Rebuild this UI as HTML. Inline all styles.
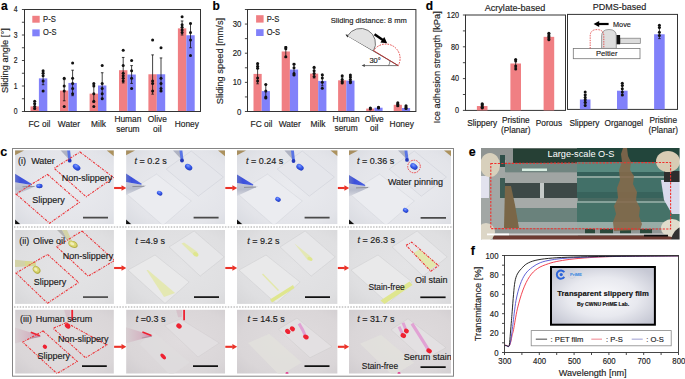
<!DOCTYPE html>
<html><head><meta charset="utf-8"><style>
html,body{margin:0;padding:0;background:#fff;}
svg{display:block;font-family:"Liberation Sans", sans-serif;}
text{stroke:currentColor;stroke-width:0.15px;}
</style></head><body>
<svg width="685" height="379" viewBox="0 0 685 379">
<rect width="685" height="379" fill="#fff"/>
<rect x="30.50" y="106.40" width="8.40" height="5.10" fill="#F07F83" />
<line x1="34.70" y1="108.95" x2="34.70" y2="103.34" stroke="#111" stroke-width="0.8" />
<line x1="33.40" y1="108.95" x2="36.00" y2="108.95" stroke="#111" stroke-width="0.8" />
<line x1="33.40" y1="103.34" x2="36.00" y2="103.34" stroke="#111" stroke-width="0.8" />
<circle cx="34.70" cy="101.30" r="1.5" fill="#111"/>
<circle cx="34.70" cy="103.85" r="1.5" fill="#111"/>
<circle cx="34.70" cy="106.40" r="1.5" fill="#111"/>
<circle cx="34.70" cy="108.44" r="1.5" fill="#111"/>
<rect x="38.90" y="78.35" width="8.40" height="33.15" fill="#8181FA" />
<line x1="43.10" y1="84.72" x2="43.10" y2="71.97" stroke="#111" stroke-width="0.8" />
<line x1="41.80" y1="84.72" x2="44.40" y2="84.72" stroke="#111" stroke-width="0.8" />
<line x1="41.80" y1="71.97" x2="44.40" y2="71.97" stroke="#111" stroke-width="0.8" />
<circle cx="43.10" cy="70.70" r="1.5" fill="#111"/>
<circle cx="43.10" cy="73.25" r="1.5" fill="#111"/>
<circle cx="43.10" cy="75.80" r="1.5" fill="#111"/>
<circle cx="43.10" cy="80.90" r="1.5" fill="#111"/>
<circle cx="43.10" cy="91.10" r="1.5" fill="#111"/>
<rect x="60.00" y="90.59" width="8.40" height="20.91" fill="#F07F83" />
<line x1="64.20" y1="100.79" x2="64.20" y2="79.62" stroke="#111" stroke-width="0.8" />
<line x1="62.90" y1="100.79" x2="65.50" y2="100.79" stroke="#111" stroke-width="0.8" />
<line x1="62.90" y1="79.62" x2="65.50" y2="79.62" stroke="#111" stroke-width="0.8" />
<circle cx="64.20" cy="78.35" r="1.5" fill="#111"/>
<circle cx="64.20" cy="86.00" r="1.5" fill="#111"/>
<circle cx="64.20" cy="91.10" r="1.5" fill="#111"/>
<circle cx="64.20" cy="106.40" r="1.5" fill="#111"/>
<rect x="68.40" y="82.94" width="8.40" height="28.56" fill="#8181FA" />
<line x1="72.60" y1="95.69" x2="72.60" y2="70.19" stroke="#111" stroke-width="0.8" />
<line x1="71.30" y1="95.69" x2="73.90" y2="95.69" stroke="#111" stroke-width="0.8" />
<line x1="71.30" y1="70.19" x2="73.90" y2="70.19" stroke="#111" stroke-width="0.8" />
<circle cx="72.60" cy="63.05" r="1.5" fill="#111"/>
<circle cx="72.60" cy="78.35" r="1.5" fill="#111"/>
<circle cx="72.60" cy="83.45" r="1.5" fill="#111"/>
<circle cx="72.60" cy="88.55" r="1.5" fill="#111"/>
<circle cx="72.60" cy="93.65" r="1.5" fill="#111"/>
<rect x="89.60" y="93.65" width="8.40" height="17.85" fill="#F07F83" />
<line x1="93.80" y1="102.58" x2="93.80" y2="84.72" stroke="#111" stroke-width="0.8" />
<line x1="92.50" y1="102.58" x2="95.10" y2="102.58" stroke="#111" stroke-width="0.8" />
<line x1="92.50" y1="84.72" x2="95.10" y2="84.72" stroke="#111" stroke-width="0.8" />
<circle cx="93.80" cy="83.45" r="1.5" fill="#111"/>
<circle cx="93.80" cy="86.00" r="1.5" fill="#111"/>
<circle cx="93.80" cy="93.65" r="1.5" fill="#111"/>
<circle cx="93.80" cy="101.30" r="1.5" fill="#111"/>
<circle cx="93.80" cy="106.40" r="1.5" fill="#111"/>
<rect x="98.00" y="85.49" width="8.40" height="26.01" fill="#8181FA" />
<line x1="102.20" y1="98.24" x2="102.20" y2="72.74" stroke="#111" stroke-width="0.8" />
<line x1="100.90" y1="98.24" x2="103.50" y2="98.24" stroke="#111" stroke-width="0.8" />
<line x1="100.90" y1="72.74" x2="103.50" y2="72.74" stroke="#111" stroke-width="0.8" />
<circle cx="102.20" cy="65.60" r="1.5" fill="#111"/>
<circle cx="102.20" cy="83.45" r="1.5" fill="#111"/>
<circle cx="102.20" cy="88.55" r="1.5" fill="#111"/>
<circle cx="102.20" cy="93.65" r="1.5" fill="#111"/>
<circle cx="102.20" cy="98.75" r="1.5" fill="#111"/>
<rect x="119.00" y="70.19" width="8.40" height="41.31" fill="#F07F83" />
<line x1="123.20" y1="82.94" x2="123.20" y2="57.44" stroke="#111" stroke-width="0.8" />
<line x1="121.90" y1="82.94" x2="124.50" y2="82.94" stroke="#111" stroke-width="0.8" />
<line x1="121.90" y1="57.44" x2="124.50" y2="57.44" stroke="#111" stroke-width="0.8" />
<circle cx="123.20" cy="50.30" r="1.5" fill="#111"/>
<circle cx="123.20" cy="65.60" r="1.5" fill="#111"/>
<circle cx="123.20" cy="73.25" r="1.5" fill="#111"/>
<circle cx="123.20" cy="75.80" r="1.5" fill="#111"/>
<circle cx="123.20" cy="78.35" r="1.5" fill="#111"/>
<circle cx="123.20" cy="80.90" r="1.5" fill="#111"/>
<rect x="127.40" y="74.53" width="8.40" height="36.97" fill="#8181FA" />
<line x1="131.60" y1="83.45" x2="131.60" y2="65.60" stroke="#111" stroke-width="0.8" />
<line x1="130.30" y1="83.45" x2="132.90" y2="83.45" stroke="#111" stroke-width="0.8" />
<line x1="130.30" y1="65.60" x2="132.90" y2="65.60" stroke="#111" stroke-width="0.8" />
<circle cx="131.60" cy="60.50" r="1.5" fill="#111"/>
<circle cx="131.60" cy="70.70" r="1.5" fill="#111"/>
<circle cx="131.60" cy="78.35" r="1.5" fill="#111"/>
<circle cx="131.60" cy="88.55" r="1.5" fill="#111"/>
<rect x="148.40" y="74.27" width="8.40" height="37.23" fill="#F07F83" />
<line x1="152.60" y1="94.16" x2="152.60" y2="54.89" stroke="#111" stroke-width="0.8" />
<line x1="151.30" y1="94.16" x2="153.90" y2="94.16" stroke="#111" stroke-width="0.8" />
<line x1="151.30" y1="54.89" x2="153.90" y2="54.89" stroke="#111" stroke-width="0.8" />
<circle cx="152.60" cy="40.10" r="1.5" fill="#111"/>
<circle cx="152.60" cy="80.90" r="1.5" fill="#111"/>
<circle cx="152.60" cy="83.45" r="1.5" fill="#111"/>
<circle cx="152.60" cy="91.10" r="1.5" fill="#111"/>
<rect x="156.80" y="74.27" width="8.40" height="37.23" fill="#8181FA" />
<line x1="161.00" y1="91.10" x2="161.00" y2="57.95" stroke="#111" stroke-width="0.8" />
<line x1="159.70" y1="91.10" x2="162.30" y2="91.10" stroke="#111" stroke-width="0.8" />
<line x1="159.70" y1="57.95" x2="162.30" y2="57.95" stroke="#111" stroke-width="0.8" />
<circle cx="161.00" cy="47.75" r="1.5" fill="#111"/>
<circle cx="161.00" cy="78.35" r="1.5" fill="#111"/>
<circle cx="161.00" cy="83.45" r="1.5" fill="#111"/>
<circle cx="161.00" cy="88.55" r="1.5" fill="#111"/>
<circle cx="161.00" cy="91.10" r="1.5" fill="#111"/>
<rect x="177.90" y="28.37" width="8.40" height="83.13" fill="#F07F83" />
<line x1="182.10" y1="35.00" x2="182.10" y2="20.98" stroke="#111" stroke-width="0.8" />
<line x1="180.80" y1="35.00" x2="183.40" y2="35.00" stroke="#111" stroke-width="0.8" />
<line x1="180.80" y1="20.98" x2="183.40" y2="20.98" stroke="#111" stroke-width="0.8" />
<circle cx="182.10" cy="16.64" r="1.5" fill="#111"/>
<circle cx="182.10" cy="24.80" r="1.5" fill="#111"/>
<circle cx="182.10" cy="27.35" r="1.5" fill="#111"/>
<circle cx="182.10" cy="29.90" r="1.5" fill="#111"/>
<circle cx="182.10" cy="32.45" r="1.5" fill="#111"/>
<rect x="186.30" y="35.25" width="8.40" height="76.25" fill="#8181FA" />
<line x1="190.50" y1="47.75" x2="190.50" y2="23.27" stroke="#111" stroke-width="0.8" />
<line x1="189.20" y1="47.75" x2="191.80" y2="47.75" stroke="#111" stroke-width="0.8" />
<line x1="189.20" y1="23.27" x2="191.80" y2="23.27" stroke="#111" stroke-width="0.8" />
<circle cx="190.50" cy="23.52" r="1.5" fill="#111"/>
<circle cx="190.50" cy="32.45" r="1.5" fill="#111"/>
<circle cx="190.50" cy="40.10" r="1.5" fill="#111"/>
<circle cx="190.50" cy="55.40" r="1.5" fill="#111"/>
<rect x="24.5" y="9.5" width="176.0" height="102.0" fill="none" stroke="#333" stroke-width="1"/>
<line x1="21.90" y1="111.50" x2="24.50" y2="111.50" stroke="#333" stroke-width="0.9" />
<line x1="21.90" y1="98.75" x2="24.50" y2="98.75" stroke="#333" stroke-width="0.9" />
<line x1="21.90" y1="86.00" x2="24.50" y2="86.00" stroke="#333" stroke-width="0.9" />
<line x1="21.90" y1="73.25" x2="24.50" y2="73.25" stroke="#333" stroke-width="0.9" />
<line x1="21.90" y1="60.50" x2="24.50" y2="60.50" stroke="#333" stroke-width="0.9" />
<line x1="21.90" y1="47.75" x2="24.50" y2="47.75" stroke="#333" stroke-width="0.9" />
<line x1="21.90" y1="35.00" x2="24.50" y2="35.00" stroke="#333" stroke-width="0.9" />
<line x1="21.90" y1="22.25" x2="24.50" y2="22.25" stroke="#333" stroke-width="0.9" />
<line x1="21.90" y1="9.50" x2="24.50" y2="9.50" stroke="#333" stroke-width="0.9" />
<text transform="translate(17.50,114.40) scale(1,1.2)" font-size="6.8" text-anchor="end" fill="#222" color="#222" >0</text>
<text transform="translate(17.50,88.90) scale(1,1.2)" font-size="6.8" text-anchor="end" fill="#222" color="#222" >1</text>
<text transform="translate(17.50,63.40) scale(1,1.2)" font-size="6.8" text-anchor="end" fill="#222" color="#222" >2</text>
<text transform="translate(17.50,37.90) scale(1,1.2)" font-size="6.8" text-anchor="end" fill="#222" color="#222" >3</text>
<text transform="translate(17.50,12.40) scale(1,1.2)" font-size="6.8" text-anchor="end" fill="#222" color="#222" >4</text>
<rect x="32.30" y="15.80" width="7.40" height="6.90" fill="#F07F83" />
<rect x="32.30" y="29.40" width="7.40" height="6.90" fill="#8181FA" />
<text transform="translate(43.10,22.00) scale(1,1.0)" font-size="8.4" text-anchor="start" fill="#222" color="#222" textLength="12.8" lengthAdjust="spacingAndGlyphs">P-S</text>
<text transform="translate(43.10,35.00) scale(1,1.0)" font-size="8.4" text-anchor="start" fill="#222" color="#222" textLength="13.3" lengthAdjust="spacingAndGlyphs">O-S</text>
<text transform="translate(39.40,126.90) scale(1,1.1)" font-size="8.4" text-anchor="middle" fill="#222" color="#222" >FC oil</text>
<text transform="translate(68.90,126.90) scale(1,1.1)" font-size="8.4" text-anchor="middle" fill="#222" color="#222" >Water</text>
<text transform="translate(98.50,126.90) scale(1,1.1)" font-size="8.4" text-anchor="middle" fill="#222" color="#222" >Milk</text>
<text transform="translate(127.90,121.90) scale(1,1.1)" font-size="8.4" text-anchor="middle" fill="#222" color="#222" >Human</text>
<text transform="translate(127.90,131.80) scale(1,1.1)" font-size="8.4" text-anchor="middle" fill="#222" color="#222" >serum</text>
<text transform="translate(157.30,121.90) scale(1,1.1)" font-size="8.4" text-anchor="middle" fill="#222" color="#222" >Olive</text>
<text transform="translate(157.30,131.80) scale(1,1.1)" font-size="8.4" text-anchor="middle" fill="#222" color="#222" >oil</text>
<text transform="translate(186.80,126.90) scale(1,1.1)" font-size="8.4" text-anchor="middle" fill="#222" color="#222" >Honey</text>
<text transform="translate(8.10,60.60) rotate(-90)" font-size="9.3" text-anchor="middle" fill="#222" color="#222">Sliding angle [°]</text>
<text transform="translate(1.00,9.80) scale(1,1.06)" font-size="12" text-anchor="start" font-weight="bold" fill="#000" color="#000" >a</text>
<rect x="253.50" y="73.91" width="8.20" height="37.59" fill="#F07F83" />
<line x1="257.60" y1="83.81" x2="257.60" y2="64.29" stroke="#111" stroke-width="0.8" />
<line x1="256.30" y1="83.81" x2="258.90" y2="83.81" stroke="#111" stroke-width="0.8" />
<line x1="256.30" y1="64.29" x2="258.90" y2="64.29" stroke="#111" stroke-width="0.8" />
<circle cx="257.60" cy="63.41" r="1.5" fill="#111"/>
<circle cx="257.60" cy="66.33" r="1.5" fill="#111"/>
<circle cx="257.60" cy="68.37" r="1.5" fill="#111"/>
<circle cx="257.60" cy="77.99" r="1.5" fill="#111"/>
<circle cx="257.60" cy="80.90" r="1.5" fill="#111"/>
<rect x="261.70" y="91.10" width="8.20" height="20.40" fill="#8181FA" />
<line x1="265.80" y1="98.09" x2="265.80" y2="84.40" stroke="#111" stroke-width="0.8" />
<line x1="264.50" y1="98.09" x2="267.10" y2="98.09" stroke="#111" stroke-width="0.8" />
<line x1="264.50" y1="84.40" x2="267.10" y2="84.40" stroke="#111" stroke-width="0.8" />
<circle cx="265.80" cy="84.40" r="1.5" fill="#111"/>
<circle cx="265.80" cy="91.10" r="1.5" fill="#111"/>
<circle cx="265.80" cy="96.93" r="1.5" fill="#111"/>
<circle cx="265.80" cy="98.09" r="1.5" fill="#111"/>
<rect x="281.70" y="51.47" width="8.20" height="60.03" fill="#F07F83" />
<line x1="285.80" y1="57.59" x2="285.80" y2="46.51" stroke="#111" stroke-width="0.8" />
<line x1="284.50" y1="57.59" x2="287.10" y2="57.59" stroke="#111" stroke-width="0.8" />
<line x1="284.50" y1="46.51" x2="287.10" y2="46.51" stroke="#111" stroke-width="0.8" />
<circle cx="285.80" cy="47.39" r="1.5" fill="#111"/>
<circle cx="285.80" cy="48.84" r="1.5" fill="#111"/>
<circle cx="285.80" cy="56.71" r="1.5" fill="#111"/>
<rect x="289.90" y="69.53" width="8.20" height="41.97" fill="#8181FA" />
<line x1="294.00" y1="75.07" x2="294.00" y2="63.41" stroke="#111" stroke-width="0.8" />
<line x1="292.70" y1="75.07" x2="295.30" y2="75.07" stroke="#111" stroke-width="0.8" />
<line x1="292.70" y1="63.41" x2="295.30" y2="63.41" stroke="#111" stroke-width="0.8" />
<circle cx="294.00" cy="64.29" r="1.5" fill="#111"/>
<circle cx="294.00" cy="67.79" r="1.5" fill="#111"/>
<circle cx="294.00" cy="73.61" r="1.5" fill="#111"/>
<circle cx="294.00" cy="75.07" r="1.5" fill="#111"/>
<rect x="310.00" y="73.61" width="8.20" height="37.89" fill="#F07F83" />
<line x1="314.10" y1="77.99" x2="314.10" y2="68.37" stroke="#111" stroke-width="0.8" />
<line x1="312.80" y1="77.99" x2="315.40" y2="77.99" stroke="#111" stroke-width="0.8" />
<line x1="312.80" y1="68.37" x2="315.40" y2="68.37" stroke="#111" stroke-width="0.8" />
<circle cx="314.10" cy="67.20" r="1.5" fill="#111"/>
<circle cx="314.10" cy="70.70" r="1.5" fill="#111"/>
<circle cx="314.10" cy="73.61" r="1.5" fill="#111"/>
<circle cx="314.10" cy="76.53" r="1.5" fill="#111"/>
<rect x="318.20" y="80.90" width="8.20" height="30.60" fill="#8181FA" />
<line x1="322.30" y1="85.85" x2="322.30" y2="75.65" stroke="#111" stroke-width="0.8" />
<line x1="321.00" y1="85.85" x2="323.60" y2="85.85" stroke="#111" stroke-width="0.8" />
<line x1="321.00" y1="75.65" x2="323.60" y2="75.65" stroke="#111" stroke-width="0.8" />
<circle cx="322.30" cy="74.78" r="1.5" fill="#111"/>
<circle cx="322.30" cy="77.99" r="1.5" fill="#111"/>
<circle cx="322.30" cy="82.36" r="1.5" fill="#111"/>
<circle cx="322.30" cy="88.19" r="1.5" fill="#111"/>
<rect x="338.10" y="80.32" width="8.20" height="31.18" fill="#F07F83" />
<line x1="342.20" y1="82.94" x2="342.20" y2="77.11" stroke="#111" stroke-width="0.8" />
<line x1="340.90" y1="82.94" x2="343.50" y2="82.94" stroke="#111" stroke-width="0.8" />
<line x1="340.90" y1="77.11" x2="343.50" y2="77.11" stroke="#111" stroke-width="0.8" />
<circle cx="342.20" cy="75.65" r="1.5" fill="#111"/>
<circle cx="342.20" cy="79.44" r="1.5" fill="#111"/>
<circle cx="342.20" cy="81.48" r="1.5" fill="#111"/>
<circle cx="342.20" cy="82.94" r="1.5" fill="#111"/>
<rect x="346.30" y="80.61" width="8.20" height="30.89" fill="#8181FA" />
<line x1="350.40" y1="82.65" x2="350.40" y2="77.69" stroke="#111" stroke-width="0.8" />
<line x1="349.10" y1="82.65" x2="351.70" y2="82.65" stroke="#111" stroke-width="0.8" />
<line x1="349.10" y1="77.69" x2="351.70" y2="77.69" stroke="#111" stroke-width="0.8" />
<circle cx="350.40" cy="75.07" r="1.5" fill="#111"/>
<circle cx="350.40" cy="77.11" r="1.5" fill="#111"/>
<circle cx="350.40" cy="79.44" r="1.5" fill="#111"/>
<circle cx="350.40" cy="81.48" r="1.5" fill="#111"/>
<circle cx="350.40" cy="82.65" r="1.5" fill="#111"/>
<rect x="366.20" y="108.59" width="8.20" height="2.91" fill="#F07F83" />
<line x1="370.30" y1="109.46" x2="370.30" y2="107.71" stroke="#111" stroke-width="0.8" />
<line x1="369.00" y1="109.46" x2="371.60" y2="109.46" stroke="#111" stroke-width="0.8" />
<line x1="369.00" y1="107.71" x2="371.60" y2="107.71" stroke="#111" stroke-width="0.8" />
<circle cx="370.30" cy="108.00" r="1.5" fill="#111"/>
<circle cx="370.30" cy="108.88" r="1.5" fill="#111"/>
<rect x="374.40" y="107.71" width="8.20" height="3.79" fill="#8181FA" />
<line x1="378.50" y1="108.59" x2="378.50" y2="106.84" stroke="#111" stroke-width="0.8" />
<line x1="377.20" y1="108.59" x2="379.80" y2="108.59" stroke="#111" stroke-width="0.8" />
<line x1="377.20" y1="106.84" x2="379.80" y2="106.84" stroke="#111" stroke-width="0.8" />
<circle cx="378.50" cy="107.13" r="1.5" fill="#111"/>
<circle cx="378.50" cy="108.00" r="1.5" fill="#111"/>
<rect x="393.70" y="104.80" width="8.20" height="6.70" fill="#F07F83" />
<line x1="397.80" y1="106.25" x2="397.80" y2="103.34" stroke="#111" stroke-width="0.8" />
<line x1="396.50" y1="106.25" x2="399.10" y2="106.25" stroke="#111" stroke-width="0.8" />
<line x1="396.50" y1="103.34" x2="399.10" y2="103.34" stroke="#111" stroke-width="0.8" />
<circle cx="397.80" cy="102.76" r="1.5" fill="#111"/>
<circle cx="397.80" cy="104.21" r="1.5" fill="#111"/>
<circle cx="397.80" cy="105.67" r="1.5" fill="#111"/>
<rect x="401.90" y="108.00" width="8.20" height="3.50" fill="#8181FA" />
<line x1="406.00" y1="108.88" x2="406.00" y2="106.25" stroke="#111" stroke-width="0.8" />
<line x1="404.70" y1="108.88" x2="407.30" y2="108.88" stroke="#111" stroke-width="0.8" />
<line x1="404.70" y1="106.25" x2="407.30" y2="106.25" stroke="#111" stroke-width="0.8" />
<circle cx="406.00" cy="105.67" r="1.5" fill="#111"/>
<circle cx="406.00" cy="107.42" r="1.5" fill="#111"/>
<circle cx="406.00" cy="108.59" r="1.5" fill="#111"/>
<rect x="247.5" y="9.5" width="168.39999999999998" height="102.0" fill="none" stroke="#333" stroke-width="1"/>
<line x1="244.90" y1="111.50" x2="247.50" y2="111.50" stroke="#333" stroke-width="0.9" />
<line x1="244.90" y1="96.93" x2="247.50" y2="96.93" stroke="#333" stroke-width="0.9" />
<line x1="244.90" y1="82.36" x2="247.50" y2="82.36" stroke="#333" stroke-width="0.9" />
<line x1="244.90" y1="67.79" x2="247.50" y2="67.79" stroke="#333" stroke-width="0.9" />
<line x1="244.90" y1="53.21" x2="247.50" y2="53.21" stroke="#333" stroke-width="0.9" />
<line x1="244.90" y1="38.64" x2="247.50" y2="38.64" stroke="#333" stroke-width="0.9" />
<line x1="244.90" y1="24.07" x2="247.50" y2="24.07" stroke="#333" stroke-width="0.9" />
<line x1="244.90" y1="9.50" x2="247.50" y2="9.50" stroke="#333" stroke-width="0.9" />
<text transform="translate(241.30,114.50) scale(1,1.16)" font-size="7.8" text-anchor="end" fill="#222" color="#222" >0</text>
<text transform="translate(241.30,85.36) scale(1,1.16)" font-size="7.8" text-anchor="end" fill="#222" color="#222" >10</text>
<text transform="translate(241.30,56.21) scale(1,1.16)" font-size="7.8" text-anchor="end" fill="#222" color="#222" >20</text>
<text transform="translate(241.30,27.07) scale(1,1.16)" font-size="7.8" text-anchor="end" fill="#222" color="#222" >30</text>
<rect x="256.10" y="15.20" width="7.50" height="7.40" fill="#F07F83" />
<rect x="256.10" y="29.20" width="7.50" height="6.80" fill="#8181FA" />
<text transform="translate(266.70,21.70) scale(1,1.0)" font-size="8.4" text-anchor="start" fill="#222" color="#222" textLength="12.6" lengthAdjust="spacingAndGlyphs">P-S</text>
<text transform="translate(266.70,35.00) scale(1,1.0)" font-size="8.4" text-anchor="start" fill="#222" color="#222" textLength="13.3" lengthAdjust="spacingAndGlyphs">O-S</text>
<text transform="translate(261.50,126.50) scale(1,1.1)" font-size="8.4" text-anchor="middle" fill="#222" color="#222" >FC oil</text>
<text transform="translate(289.70,126.50) scale(1,1.1)" font-size="8.4" text-anchor="middle" fill="#222" color="#222" >Water</text>
<text transform="translate(318.00,126.50) scale(1,1.1)" font-size="8.4" text-anchor="middle" fill="#222" color="#222" >Milk</text>
<text transform="translate(346.10,121.50) scale(1,1.1)" font-size="8.4" text-anchor="middle" fill="#222" color="#222" >Human</text>
<text transform="translate(346.10,131.40) scale(1,1.1)" font-size="8.4" text-anchor="middle" fill="#222" color="#222" >serum</text>
<text transform="translate(374.20,121.50) scale(1,1.1)" font-size="8.4" text-anchor="middle" fill="#222" color="#222" >Olive</text>
<text transform="translate(374.20,131.40) scale(1,1.1)" font-size="8.4" text-anchor="middle" fill="#222" color="#222" >oil</text>
<text transform="translate(401.70,126.50) scale(1,1.1)" font-size="8.4" text-anchor="middle" fill="#222" color="#222" >Honey</text>
<text transform="translate(222.80,61.00) rotate(-90)" font-size="9.3" text-anchor="middle" fill="#222" color="#222">Sliding speed [mm/s]</text>
<text transform="translate(212.60,9.60) scale(1,1.06)" font-size="12" text-anchor="start" font-weight="bold" fill="#000" color="#000" >b</text>
<text transform="translate(330.80,23.40) scale(1,1.0)" font-size="7.55" text-anchor="start" fill="#222" color="#222" >Sliding distance: 8 mm</text>
<line x1="346.50" y1="35.20" x2="398.20" y2="65.60" stroke="#333" stroke-width="0.8" />
<polygon points="345.50,34.60 347.50,37.52 349.02,34.93" fill="#222"/>
<line x1="364.20" y1="65.60" x2="398.20" y2="65.60" stroke="#555" stroke-width="0.8" />
<polygon points="361.60,65.60 364.80,67.10 364.80,64.10" fill="#444"/>
<line x1="373.50" y1="50.60" x2="398.20" y2="65.60" stroke="#c03030" stroke-width="0.9" />
<path d="M347.60,35.90 A14.94,14.94 0 0 1 373.50,50.80" fill="#e2e2e2" stroke="#666" stroke-width="0.9" />
<path d="M373.50,50.80 A14.40,14.40 0 0 1 398.20,65.60" fill="none" stroke="#e03030" stroke-width="0.9" stroke-dasharray="1.6,1.1"/>
<line x1="374.5" y1="34.2" x2="383.2" y2="40.3" stroke="#000" stroke-width="2.4"/>
<polygon points="387.2,43.2 380.4,42.6 384.3,37.0" fill="#000"/>
<path d="M388.6,65.6 A9.6,9.6 0 0 0 389.9,60.6" fill="none" stroke="#555" stroke-width="0.7"/>
<text transform="translate(369.40,63.00) scale(1,1.0)" font-size="7.5" text-anchor="start" fill="#222" color="#222" >30°</text>
<rect x="465.5" y="15.0" width="100" height="95.40" fill="none" stroke="#333" stroke-width="1"/>
<rect x="567.5" y="14.4" width="110" height="95.00" fill="none" stroke="#333" stroke-width="1"/>
<line x1="462.90" y1="110.40" x2="465.50" y2="110.40" stroke="#333" stroke-width="0.9" />
<line x1="462.90" y1="94.50" x2="465.50" y2="94.50" stroke="#333" stroke-width="0.9" />
<line x1="462.90" y1="78.60" x2="465.50" y2="78.60" stroke="#333" stroke-width="0.9" />
<line x1="462.90" y1="62.70" x2="465.50" y2="62.70" stroke="#333" stroke-width="0.9" />
<line x1="462.90" y1="46.80" x2="465.50" y2="46.80" stroke="#333" stroke-width="0.9" />
<line x1="462.90" y1="30.90" x2="465.50" y2="30.90" stroke="#333" stroke-width="0.9" />
<line x1="462.90" y1="15.00" x2="465.50" y2="15.00" stroke="#333" stroke-width="0.9" />
<text transform="translate(459.00,113.20) scale(1,1.16)" font-size="7.3" text-anchor="end" fill="#222" color="#222" >0</text>
<text transform="translate(459.00,81.40) scale(1,1.16)" font-size="7.3" text-anchor="end" fill="#222" color="#222" >40</text>
<text transform="translate(459.00,49.60) scale(1,1.16)" font-size="7.3" text-anchor="end" fill="#222" color="#222" >80</text>
<text transform="translate(459.00,17.80) scale(1,1.16)" font-size="7.3" text-anchor="end" fill="#222" color="#222" >120</text>
<rect x="476.90" y="106.03" width="10.60" height="4.37" fill="#F07F83" />
<line x1="482.20" y1="108.02" x2="482.20" y2="104.04" stroke="#111" stroke-width="0.8" />
<line x1="480.90" y1="108.02" x2="483.50" y2="108.02" stroke="#111" stroke-width="0.8" />
<line x1="480.90" y1="104.04" x2="483.50" y2="104.04" stroke="#111" stroke-width="0.8" />
<circle cx="482.20" cy="103.64" r="1.5" fill="#111"/>
<circle cx="482.20" cy="104.84" r="1.5" fill="#111"/>
<circle cx="482.20" cy="106.03" r="1.5" fill="#111"/>
<circle cx="482.20" cy="107.22" r="1.5" fill="#111"/>
<circle cx="482.20" cy="108.02" r="1.5" fill="#111"/>
<rect x="510.40" y="63.50" width="10.60" height="46.91" fill="#F07F83" />
<line x1="515.70" y1="67.47" x2="515.70" y2="59.52" stroke="#111" stroke-width="0.8" />
<line x1="514.40" y1="67.47" x2="517.00" y2="67.47" stroke="#111" stroke-width="0.8" />
<line x1="514.40" y1="59.52" x2="517.00" y2="59.52" stroke="#111" stroke-width="0.8" />
<circle cx="515.70" cy="59.52" r="1.5" fill="#111"/>
<circle cx="515.70" cy="61.11" r="1.5" fill="#111"/>
<circle cx="515.70" cy="65.88" r="1.5" fill="#111"/>
<circle cx="515.70" cy="69.06" r="1.5" fill="#111"/>
<rect x="543.60" y="36.86" width="10.60" height="73.54" fill="#F07F83" />
<line x1="548.90" y1="39.64" x2="548.90" y2="33.28" stroke="#111" stroke-width="0.8" />
<line x1="547.60" y1="39.64" x2="550.20" y2="39.64" stroke="#111" stroke-width="0.8" />
<line x1="547.60" y1="33.28" x2="550.20" y2="33.28" stroke="#111" stroke-width="0.8" />
<circle cx="548.90" cy="33.28" r="1.5" fill="#111"/>
<circle cx="548.90" cy="34.88" r="1.5" fill="#111"/>
<circle cx="548.90" cy="36.47" r="1.5" fill="#111"/>
<circle cx="548.90" cy="38.06" r="1.5" fill="#111"/>
<circle cx="548.90" cy="39.64" r="1.5" fill="#111"/>
<rect x="579.90" y="99.46" width="10.60" height="9.94" fill="#8181FA" />
<line x1="585.20" y1="103.84" x2="585.20" y2="94.30" stroke="#111" stroke-width="0.8" />
<line x1="583.90" y1="103.84" x2="586.50" y2="103.84" stroke="#111" stroke-width="0.8" />
<line x1="583.90" y1="94.30" x2="586.50" y2="94.30" stroke="#111" stroke-width="0.8" />
<circle cx="585.20" cy="91.91" r="1.5" fill="#111"/>
<circle cx="585.20" cy="95.09" r="1.5" fill="#111"/>
<circle cx="585.20" cy="97.48" r="1.5" fill="#111"/>
<circle cx="585.20" cy="99.86" r="1.5" fill="#111"/>
<circle cx="585.20" cy="102.25" r="1.5" fill="#111"/>
<circle cx="585.20" cy="105.43" r="1.5" fill="#111"/>
<rect x="617.00" y="90.72" width="10.60" height="18.68" fill="#8181FA" />
<line x1="622.30" y1="95.09" x2="622.30" y2="85.55" stroke="#111" stroke-width="0.8" />
<line x1="621.00" y1="95.09" x2="623.60" y2="95.09" stroke="#111" stroke-width="0.8" />
<line x1="621.00" y1="85.55" x2="623.60" y2="85.55" stroke="#111" stroke-width="0.8" />
<circle cx="622.30" cy="83.17" r="1.5" fill="#111"/>
<circle cx="622.30" cy="85.55" r="1.5" fill="#111"/>
<circle cx="622.30" cy="88.73" r="1.5" fill="#111"/>
<circle cx="622.30" cy="91.91" r="1.5" fill="#111"/>
<circle cx="622.30" cy="95.09" r="1.5" fill="#111"/>
<rect x="654.10" y="34.27" width="10.60" height="75.13" fill="#8181FA" />
<line x1="659.40" y1="38.64" x2="659.40" y2="27.52" stroke="#111" stroke-width="0.8" />
<line x1="658.10" y1="38.64" x2="660.70" y2="38.64" stroke="#111" stroke-width="0.8" />
<line x1="658.10" y1="27.52" x2="660.70" y2="27.52" stroke="#111" stroke-width="0.8" />
<circle cx="659.40" cy="25.13" r="1.5" fill="#111"/>
<circle cx="659.40" cy="27.52" r="1.5" fill="#111"/>
<circle cx="659.40" cy="32.28" r="1.5" fill="#111"/>
<circle cx="659.40" cy="35.47" r="1.5" fill="#111"/>
<text transform="translate(515.00,10.70) scale(1,1.0)" font-size="9.1" text-anchor="middle" fill="#222" color="#222" >Acrylate-based</text>
<text transform="translate(619.50,10.30) scale(1,1.0)" font-size="9.0" text-anchor="middle" fill="#222" color="#222" >PDMS-based</text>
<text transform="translate(482.20,125.70) scale(1,1.1)" font-size="8.3" text-anchor="middle" fill="#222" color="#222" >Slippery</text>
<text transform="translate(515.80,122.50) scale(1,1.1)" font-size="8.3" text-anchor="middle" fill="#222" color="#222" >Pristine</text>
<text transform="translate(515.80,132.80) scale(1,1.1)" font-size="8.3" text-anchor="middle" fill="#222" color="#222" >(Planar)</text>
<text transform="translate(548.90,125.70) scale(1,1.1)" font-size="8.3" text-anchor="middle" fill="#222" color="#222" >Porous</text>
<text transform="translate(584.40,125.70) scale(1,1.1)" font-size="8.3" text-anchor="middle" fill="#222" color="#222" >Slippery</text>
<text transform="translate(623.80,125.70) scale(1,1.1)" font-size="8.3" text-anchor="middle" fill="#222" color="#222" >Organogel</text>
<text transform="translate(663.20,122.50) scale(1,1.1)" font-size="8.3" text-anchor="middle" fill="#222" color="#222" >Pristine</text>
<text transform="translate(663.20,132.80) scale(1,1.1)" font-size="8.3" text-anchor="middle" fill="#222" color="#222" >(Planar)</text>
<text transform="translate(439.70,67.30) rotate(-90)" font-size="9.25" text-anchor="middle" fill="#222" color="#222">Ice adhesion strength [kPa]</text>
<text transform="translate(425.80,9.80) scale(1,1.06)" font-size="12" text-anchor="start" font-weight="bold" fill="#000" color="#000" >d</text>
<rect x="573.3" y="48.4" width="66.7" height="10.3" fill="#fff" stroke="#777" stroke-width="0.8"/>
<text transform="translate(606.80,56.20) scale(1,1.0)" font-size="7.6" text-anchor="middle" fill="#222" color="#222" >Peltier</text>
<rect x="620" y="38.2" width="20.3" height="5.2" fill="#dcdcdc" stroke="#777" stroke-width="0.7"/>
<rect x="616.2" y="35.0" width="3.9" height="9.3" fill="#111"/>
<path d="M601.6,48.4 L601.6,36 Q601.6,29.5 609,29.5 Q616.3,29.5 616.3,36 L616.3,48.4 Z" fill="#dedede" stroke="#777" stroke-width="0.7"/>
<path d="M590.2,48.4 L590.2,36 Q590.2,29.6 597,29.6 Q603.8,29.6 603.8,36 L603.8,48.4" fill="none" stroke="#e03030" stroke-width="0.8" stroke-dasharray="1.4,1"/>
<line x1="598.5" y1="24.0" x2="608.6" y2="24.0" stroke="#000" stroke-width="2.2"/>
<polygon points="593.6,24.0 599.2,20.9 599.2,27.1" fill="#000"/>
<text transform="translate(613.00,26.60) scale(1,1.0)" font-size="7.3" text-anchor="start" fill="#222" color="#222" >Move</text>
<path d="M504.50,344.93 C504.85,345.03 506.01,345.27 506.59,345.52 C507.17,345.76 507.52,346.36 507.98,346.39 C508.44,346.42 508.91,346.47 509.37,345.71 C509.84,344.95 510.30,343.61 510.76,341.83 C511.23,340.05 511.69,337.06 512.16,335.04 C512.62,333.02 512.68,334.07 513.55,329.70 C514.42,325.34 515.81,315.46 517.38,308.85 C518.94,302.24 520.91,295.42 522.94,290.03 C524.97,284.65 527.12,280.14 529.56,276.55 C531.99,272.96 534.43,270.63 537.56,268.50 C540.69,266.36 544.75,264.99 548.35,263.75 C551.94,262.50 554.84,261.84 559.14,261.03 C563.43,260.22 568.13,259.53 574.10,258.89 C580.07,258.26 588.02,257.65 594.98,257.25 C601.94,256.84 607.74,256.66 615.86,256.47 C623.98,256.28 633.26,256.18 643.70,256.08 C654.14,255.98 672.70,255.92 678.50,255.89" fill="none" stroke="#f03040" stroke-width="0.9"/>
<path d="M504.50,345.23 C504.85,345.31 506.01,345.47 506.59,345.71 C507.17,345.95 507.52,346.68 507.98,346.68 C508.44,346.68 508.91,346.68 509.37,345.71 C509.84,344.74 510.36,342.96 510.76,340.86 C511.17,338.76 511.46,335.78 511.81,333.10 C512.16,330.42 512.16,330.16 512.85,324.76 C513.55,319.36 514.77,307.39 515.98,300.70 C517.20,294.01 518.59,289.06 520.16,284.60 C521.73,280.14 523.35,276.82 525.38,273.93 C527.41,271.04 529.85,269.11 532.34,267.24 C534.83,265.36 537.21,263.89 540.34,262.68 C543.48,261.47 546.67,260.72 551.13,259.96 C555.60,259.20 559.83,258.64 567.14,258.12 C574.45,257.60 585.12,257.17 594.98,256.86 C604.84,256.55 612.38,256.44 626.30,256.28 C640.22,256.11 669.80,255.95 678.50,255.89" fill="none" stroke="#5050d0" stroke-width="0.9"/>
<path d="M504.50,345.52 C504.85,345.55 505.95,345.60 506.59,345.71 C507.23,345.82 507.86,346.36 508.33,346.19 C508.79,346.03 509.02,346.92 509.37,344.74 C509.72,342.56 510.07,337.14 510.42,333.10 C510.76,329.06 511.17,324.05 511.46,320.49 C511.75,316.93 511.81,316.12 512.16,311.76 C512.50,307.39 513.08,299.31 513.55,294.30 C514.01,289.29 514.30,285.08 514.94,281.69 C515.58,278.30 516.27,276.13 517.38,273.93 C518.48,271.73 519.99,270.20 521.55,268.50 C523.12,266.80 524.51,265.09 526.77,263.75 C529.03,262.40 531.53,261.34 535.12,260.45 C538.72,259.56 543.01,258.94 548.35,258.41 C553.68,257.88 559.37,257.55 567.14,257.25 C574.91,256.94 585.12,256.74 594.98,256.57 C604.84,256.39 612.38,256.31 626.30,256.18 C640.22,256.05 669.80,255.86 678.50,255.79" fill="none" stroke="#111" stroke-width="0.9"/>
<rect x="504.5" y="255.5" width="174.0" height="97.0" fill="none" stroke="#333" stroke-width="0.9"/>
<line x1="502.00" y1="352.50" x2="504.50" y2="352.50" stroke="#333" stroke-width="0.9" />
<line x1="502.00" y1="342.80" x2="504.50" y2="342.80" stroke="#333" stroke-width="0.9" />
<line x1="502.00" y1="333.10" x2="504.50" y2="333.10" stroke="#333" stroke-width="0.9" />
<line x1="502.00" y1="323.40" x2="504.50" y2="323.40" stroke="#333" stroke-width="0.9" />
<line x1="502.00" y1="313.70" x2="504.50" y2="313.70" stroke="#333" stroke-width="0.9" />
<line x1="502.00" y1="304.00" x2="504.50" y2="304.00" stroke="#333" stroke-width="0.9" />
<line x1="502.00" y1="294.30" x2="504.50" y2="294.30" stroke="#333" stroke-width="0.9" />
<line x1="502.00" y1="284.60" x2="504.50" y2="284.60" stroke="#333" stroke-width="0.9" />
<line x1="502.00" y1="274.90" x2="504.50" y2="274.90" stroke="#333" stroke-width="0.9" />
<line x1="502.00" y1="265.20" x2="504.50" y2="265.20" stroke="#333" stroke-width="0.9" />
<line x1="502.00" y1="255.50" x2="504.50" y2="255.50" stroke="#333" stroke-width="0.9" />
<text transform="translate(498.50,355.60) scale(1,1.16)" font-size="7.8" text-anchor="end" fill="#222" color="#222" >0</text>
<text transform="translate(498.50,336.20) scale(1,1.16)" font-size="7.8" text-anchor="end" fill="#222" color="#222" >20</text>
<text transform="translate(498.50,316.80) scale(1,1.16)" font-size="7.8" text-anchor="end" fill="#222" color="#222" >40</text>
<text transform="translate(498.50,297.40) scale(1,1.16)" font-size="7.8" text-anchor="end" fill="#222" color="#222" >60</text>
<text transform="translate(498.50,278.00) scale(1,1.16)" font-size="7.8" text-anchor="end" fill="#222" color="#222" >80</text>
<text transform="translate(498.50,258.60) scale(1,1.16)" font-size="7.8" text-anchor="end" fill="#222" color="#222" >100</text>
<line x1="504.50" y1="352.50" x2="504.50" y2="355.00" stroke="#333" stroke-width="0.9" />
<line x1="521.90" y1="352.50" x2="521.90" y2="355.00" stroke="#333" stroke-width="0.9" />
<line x1="539.30" y1="352.50" x2="539.30" y2="355.00" stroke="#333" stroke-width="0.9" />
<line x1="556.70" y1="352.50" x2="556.70" y2="355.00" stroke="#333" stroke-width="0.9" />
<line x1="574.10" y1="352.50" x2="574.10" y2="355.00" stroke="#333" stroke-width="0.9" />
<line x1="591.50" y1="352.50" x2="591.50" y2="355.00" stroke="#333" stroke-width="0.9" />
<line x1="608.90" y1="352.50" x2="608.90" y2="355.00" stroke="#333" stroke-width="0.9" />
<line x1="626.30" y1="352.50" x2="626.30" y2="355.00" stroke="#333" stroke-width="0.9" />
<line x1="643.70" y1="352.50" x2="643.70" y2="355.00" stroke="#333" stroke-width="0.9" />
<line x1="661.10" y1="352.50" x2="661.10" y2="355.00" stroke="#333" stroke-width="0.9" />
<line x1="678.50" y1="352.50" x2="678.50" y2="355.00" stroke="#333" stroke-width="0.9" />
<text transform="translate(504.80,364.30) scale(1,1.16)" font-size="7.8" text-anchor="middle" fill="#222" color="#222" >300</text>
<text transform="translate(539.60,364.30) scale(1,1.16)" font-size="7.8" text-anchor="middle" fill="#222" color="#222" >400</text>
<text transform="translate(574.40,364.30) scale(1,1.16)" font-size="7.8" text-anchor="middle" fill="#222" color="#222" >500</text>
<text transform="translate(609.20,364.30) scale(1,1.16)" font-size="7.8" text-anchor="middle" fill="#222" color="#222" >600</text>
<text transform="translate(644.00,364.30) scale(1,1.16)" font-size="7.8" text-anchor="middle" fill="#222" color="#222" >700</text>
<text transform="translate(678.80,364.30) scale(1,1.16)" font-size="7.8" text-anchor="middle" fill="#222" color="#222" >800</text>
<text transform="translate(592.70,376.10) scale(1,1.0)" font-size="9.1" text-anchor="middle" fill="#222" color="#222" >Wavelength [nm]</text>
<text transform="translate(481.30,304.00) rotate(-90)" font-size="9.3" text-anchor="middle" fill="#222" color="#222">Transmittance [%]</text>
<text transform="translate(470.80,255.40) scale(1,1.06)" font-size="12.5" text-anchor="start" font-weight="bold" fill="#000" color="#000" >f</text>
<defs><radialGradient id="ig" cx="0.5" cy="0.52" r="0.62"><stop offset="0" stop-color="#fafafc"/><stop offset="0.55" stop-color="#e8e9ef"/><stop offset="1" stop-color="#c6c8d4"/></radialGradient></defs>
<rect x="551" y="267" width="103.9" height="57.7" fill="url(#ig)" stroke="#000" stroke-width="2"/>
<path d="M564.3,272.3 A4.1,4.1 0 1 0 564.3,276.9" fill="none" stroke="#2b63d9" stroke-width="1.9"/>
<circle cx="561.2" cy="274.6" r="1.6" fill="#2b63d9"/>
<circle cx="572.0" cy="274.6" r="3.8" fill="none" stroke="#c8cde0" stroke-width="0.6"/>
<text transform="translate(570.00,276.20) scale(1,1)" font-size="4.2" text-anchor="start" font-weight="bold" fill="#4a90e0" color="#4a90e0" >PriME</text>
<text transform="translate(603.10,296.10) scale(1,1.0)" font-size="7.7" text-anchor="middle" font-weight="bold" fill="#111" color="#111" textLength="91.5" lengthAdjust="spacingAndGlyphs">Transparent slippery film</text>
<text transform="translate(603.10,306.30) scale(1,1.1)" font-size="5.2" text-anchor="middle" font-weight="bold" fill="#111" color="#111" textLength="52" lengthAdjust="spacingAndGlyphs">By CWNU PriME Lab.</text>
<rect x="531.2" y="330.6" width="140" height="15.2" fill="#fff" stroke="#888" stroke-width="0.8"/>
<line x1="535.80" y1="339.20" x2="547.10" y2="339.20" stroke="#707070" stroke-width="1.3" />
<text transform="translate(550.60,341.80) scale(1,1.0)" font-size="7.6" text-anchor="start" fill="#222" color="#222" >: PET film</text>
<line x1="591.30" y1="339.20" x2="602.00" y2="339.20" stroke="#f4a0a8" stroke-width="1.3" />
<text transform="translate(606.00,341.80) scale(1,1.0)" font-size="7.6" text-anchor="start" fill="#222" color="#222" >: P-S</text>
<line x1="631.70" y1="339.20" x2="642.70" y2="339.20" stroke="#b4b4dc" stroke-width="1.3" />
<text transform="translate(646.20,341.80) scale(1,1.0)" font-size="7.6" text-anchor="start" fill="#222" color="#222" >: O-S</text>
<defs>
<radialGradient id="bgr1" cx="0.55" cy="0.5" r="0.75"><stop offset="0" stop-color="#eaebef"/><stop offset="0.7" stop-color="#e3e4e9"/><stop offset="1" stop-color="#d8dae0"/></radialGradient>
<radialGradient id="bgr2" cx="0.55" cy="0.5" r="0.75"><stop offset="0" stop-color="#e4e4e6"/><stop offset="0.7" stop-color="#dfdfe1"/><stop offset="1" stop-color="#d6d6d8"/></radialGradient>
<radialGradient id="bgr3" cx="0.55" cy="0.5" r="0.75"><stop offset="0" stop-color="#e0dcde"/><stop offset="0.7" stop-color="#dad6d8"/><stop offset="1" stop-color="#d0cccf"/></radialGradient>
<linearGradient id="pipB" x1="0" y1="0" x2="1" y2="0"><stop offset="0" stop-color="#6070c8"/><stop offset="0.35" stop-color="#3c50dc"/><stop offset="1" stop-color="#4a60e0"/></linearGradient><linearGradient id="pipG" x1="0" y1="0" x2="0" y2="1"><stop offset="0" stop-color="#c6c9d6"/><stop offset="0.5" stop-color="#b8bccb"/><stop offset="1" stop-color="#d6d8e0"/></linearGradient>
<linearGradient id="pipY" x1="0" y1="0" x2="1" y2="0"><stop offset="0" stop-color="#c9c8a8"/><stop offset="1" stop-color="#d8d070"/></linearGradient>
<linearGradient id="pipR" x1="0" y1="0" x2="1" y2="0"><stop offset="0" stop-color="#d6ced1"/><stop offset="0.6" stop-color="#d4b4c2"/><stop offset="1" stop-color="#d87aa4"/></linearGradient>
<radialGradient id="dropB" cx="0.35" cy="0.35" r="0.75"><stop offset="0" stop-color="#7e9cff"/><stop offset="0.5" stop-color="#3558ea"/><stop offset="1" stop-color="#1f36b4"/></radialGradient>
</defs>
<rect x="12.5" y="148.5" width="441" height="227.7" fill="none" stroke="#858585" stroke-width="1"/>
<line x1="14" y1="227" x2="453" y2="227" stroke="#a0a0a0" stroke-width="1" stroke-dasharray="1.5,1.35"/>
<line x1="14" y1="307" x2="453" y2="307" stroke="#a0a0a0" stroke-width="1" stroke-dasharray="1.5,1.35"/>
<line x1="114.10" y1="188.0" x2="121.90" y2="188.0" stroke="#ea3228" stroke-width="2.1"/>
<polygon points="126.30,188.00 121.50,185.30 121.50,190.70" fill="#ea3228" stroke="none" stroke-width="0.9" />
<line x1="225.30" y1="188.0" x2="232.80" y2="188.0" stroke="#ea3228" stroke-width="2.1"/>
<polygon points="237.20,188.00 232.40,185.30 232.40,190.70" fill="#ea3228" stroke="none" stroke-width="0.9" />
<line x1="337.80" y1="188.0" x2="344.80" y2="188.0" stroke="#ea3228" stroke-width="2.1"/>
<polygon points="349.20,188.00 344.40,185.30 344.40,190.70" fill="#ea3228" stroke="none" stroke-width="0.9" />
<line x1="114.10" y1="268.0" x2="121.90" y2="268.0" stroke="#ea3228" stroke-width="2.1"/>
<polygon points="126.30,268.00 121.50,265.30 121.50,270.70" fill="#ea3228" stroke="none" stroke-width="0.9" />
<line x1="225.30" y1="268.0" x2="232.80" y2="268.0" stroke="#ea3228" stroke-width="2.1"/>
<polygon points="237.20,268.00 232.40,265.30 232.40,270.70" fill="#ea3228" stroke="none" stroke-width="0.9" />
<line x1="337.80" y1="268.0" x2="344.80" y2="268.0" stroke="#ea3228" stroke-width="2.1"/>
<polygon points="349.20,268.00 344.40,265.30 344.40,270.70" fill="#ea3228" stroke="none" stroke-width="0.9" />
<line x1="114.10" y1="346.8" x2="121.90" y2="346.8" stroke="#ea3228" stroke-width="2.1"/>
<polygon points="126.30,346.80 121.50,344.10 121.50,349.50" fill="#ea3228" stroke="none" stroke-width="0.9" />
<line x1="225.30" y1="346.8" x2="232.80" y2="346.8" stroke="#ea3228" stroke-width="2.1"/>
<polygon points="237.20,346.80 232.40,344.10 232.40,349.50" fill="#ea3228" stroke="none" stroke-width="0.9" />
<line x1="337.80" y1="346.8" x2="344.80" y2="346.8" stroke="#ea3228" stroke-width="2.1"/>
<polygon points="349.20,346.80 344.40,344.10 344.40,349.50" fill="#ea3228" stroke="none" stroke-width="0.9" />
<clipPath id="cp0"><rect x="15.1" y="150.1" width="98.8" height="74.1"/></clipPath><g clip-path="url(#cp0)"><g transform="translate(15.0,150.5)"><rect x="0.10" y="-0.40" width="98.8" height="74.1" fill="url(#bgr1)"/><polygon points="0.00,0.00 9.00,0.00 0.00,4.80" fill="#a88f60" stroke="none" stroke-width="0.9" /><polygon points="98.80,0.00 91.80,0.00 98.80,5.80" fill="#ac925e" stroke="none" stroke-width="0.9" /><polygon points="0.00,74.10 0.00,69.10 5.60,74.10" fill="#111" stroke="none" stroke-width="0.9" /><polygon points="0.00,31.80 16.80,34.40 21.50,35.30 0.00,44.80" fill="url(#pipG)" stroke="none" stroke-width="0.9" /><polygon points="0.00,23.30 0.00,31.80 16.80,34.50 16.80,33.50" fill="url(#pipB)" stroke="none" stroke-width="0.9" /><polygon points="16.80,33.60 21.50,35.30 16.80,35.70" fill="#e4e6ec" stroke="none" stroke-width="0.9" /><line x1="7.5" y1="36.3" x2="19.5" y2="35.9" stroke="#505050" stroke-width="0.8" opacity="0.55"/><ellipse cx="24.40" cy="35.50" rx="3.2" ry="2.2" fill="url(#dropB)" transform="rotate(0 24.40 35.50)" /><polygon points="45.70,0.00 52.20,0.00 54.20,9.20" fill="#9ea2b4" stroke="none" stroke-width="0.9" opacity="0.75"/><polygon points="52.10,0.00 55.10,0.00 56.10,9.20 53.50,10.20" fill="#4a68e4" stroke="none" stroke-width="0.9" opacity="0.9"/><circle cx="54.70" cy="10.20" r="1.9" fill="#2438b8"/><ellipse cx="61.60" cy="16.70" rx="4.2" ry="2.8" fill="url(#dropB)" transform="rotate(35 61.60 16.70)" /><polygon points="32.50,23.90 64.40,51.80 34.60,72.70 1.00,43.50" fill="none" stroke="#ec3438" stroke-width="1.1" stroke-dasharray="2.4,1.1,0.9,1.1"/><polygon points="65.00,1.50 98.60,27.00 71.20,46.30 39.20,17.80" fill="none" stroke="#ec3438" stroke-width="1.1" stroke-dasharray="2.4,1.1,0.9,1.1"/><text x="3.00" y="13.60" font-size="9" fill="#1a1a1a" color="#1a1a1a" text-anchor="start" >(i)</text><text x="16.20" y="13.60" font-size="9" fill="#1a1a1a" color="#1a1a1a" text-anchor="start" >Water</text><text x="46.80" y="30.70" font-size="9" fill="#1a1a1a" color="#1a1a1a" text-anchor="start" >Non-slippery</text><text x="17.30" y="52.50" font-size="9" fill="#1a1a1a" color="#1a1a1a" text-anchor="start" >Slippery</text><line x1="68" y1="67.2" x2="93" y2="67.2" stroke="#4a4a4a" stroke-width="1.7"/></g></g>
<clipPath id="cp1"><rect x="126.1" y="150.1" width="99.0" height="74.1"/></clipPath><g clip-path="url(#cp1)"><g transform="translate(126.0,150.5)"><rect x="0.10" y="-0.40" width="99.0" height="74.1" fill="url(#bgr1)"/><polygon points="0.00,0.00 9.00,0.00 0.00,4.80" fill="#a88f60" stroke="none" stroke-width="0.9" /><polygon points="99.00,0.00 92.00,0.00 99.00,5.80" fill="#ac925e" stroke="none" stroke-width="0.9" /><polygon points="0.00,74.10 0.00,69.10 5.60,74.10" fill="#111" stroke="none" stroke-width="0.9" /><polygon points="30.50,23.60 65.30,50.50 37.00,75.00 0.00,42.70" fill="#ebecf0" stroke="#cdcfd6" stroke-width="0.45" /><polygon points="65.30,0.50 97.40,26.60 72.30,45.70 40.20,18.60" fill="#e5e6eb" stroke="#c8cad2" stroke-width="0.45" /><polygon points="0.00,31.60 15.70,34.20 20.40,35.10 0.00,44.60" fill="url(#pipG)" stroke="none" stroke-width="0.9" /><polygon points="0.00,23.10 0.00,31.60 15.70,34.30 15.70,33.30" fill="url(#pipB)" stroke="none" stroke-width="0.9" /><polygon points="15.70,33.40 20.40,35.10 15.70,35.50" fill="#e4e6ec" stroke="none" stroke-width="0.9" /><line x1="6.399999999999999" y1="36.1" x2="18.4" y2="35.7" stroke="#505050" stroke-width="0.8" opacity="0.55"/><ellipse cx="33.60" cy="42.70" rx="2.9" ry="2.2" fill="url(#dropB)" transform="rotate(30 33.60 42.70)" /><polygon points="47.00,0.00 53.50,0.00 55.50,9.00" fill="#9ea2b4" stroke="none" stroke-width="0.9" opacity="0.75"/><polygon points="53.40,0.00 56.40,0.00 57.40,9.00 54.80,10.00" fill="#4a68e4" stroke="none" stroke-width="0.9" opacity="0.9"/><circle cx="56.00" cy="10.00" r="1.9" fill="#2438b8"/><ellipse cx="62.60" cy="16.60" rx="4.0" ry="2.8" fill="url(#dropB)" transform="rotate(35 62.60 16.60)" /><text x="8.40" y="13.90" font-size="9" fill="#1a1a1a" color="#1a1a1a"><tspan font-style="italic">t</tspan> = 0.2 s</text><line x1="67.6" y1="67.1" x2="92.6" y2="67.1" stroke="#4a4a4a" stroke-width="1.7"/></g></g>
<clipPath id="cp2"><rect x="237.0" y="150.1" width="100.6" height="74.1"/></clipPath><g clip-path="url(#cp2)"><g transform="translate(237.0,150.5)"><rect x="0.00" y="-0.40" width="100.6" height="74.1" fill="url(#bgr1)"/><polygon points="0.00,0.00 9.00,0.00 0.00,4.80" fill="#a88f60" stroke="none" stroke-width="0.9" /><polygon points="100.60,0.00 93.60,0.00 100.60,5.80" fill="#ac925e" stroke="none" stroke-width="0.9" /><polygon points="0.00,74.10 0.00,69.10 5.60,74.10" fill="#111" stroke="none" stroke-width="0.9" /><polygon points="30.50,23.60 65.30,50.50 37.00,75.00 0.00,42.70" fill="#ebecf0" stroke="#cdcfd6" stroke-width="0.45" /><polygon points="65.30,0.50 97.40,26.60 72.30,45.70 40.20,18.60" fill="#e5e6eb" stroke="#c8cad2" stroke-width="0.45" /><polygon points="0.00,32.40 16.30,35.00 21.00,35.90 0.00,45.40" fill="url(#pipG)" stroke="none" stroke-width="0.9" /><polygon points="0.00,23.90 0.00,32.40 16.30,35.10 16.30,34.10" fill="url(#pipB)" stroke="none" stroke-width="0.9" /><polygon points="16.30,34.20 21.00,35.90 16.30,36.30" fill="#e4e6ec" stroke="none" stroke-width="0.9" /><line x1="7" y1="36.9" x2="19" y2="36.5" stroke="#505050" stroke-width="0.8" opacity="0.55"/><ellipse cx="41.00" cy="48.90" rx="2.9" ry="2.2" fill="url(#dropB)" transform="rotate(30 41.00 48.90)" /><polygon points="47.50,0.00 54.00,0.00 56.00,9.50" fill="#9ea2b4" stroke="none" stroke-width="0.9" opacity="0.75"/><polygon points="53.90,0.00 56.90,0.00 57.90,9.50 55.30,10.50" fill="#4a68e4" stroke="none" stroke-width="0.9" opacity="0.9"/><circle cx="56.50" cy="10.50" r="1.9" fill="#2438b8"/><ellipse cx="63.00" cy="16.80" rx="4.0" ry="2.8" fill="url(#dropB)" transform="rotate(35 63.00 16.80)" /><text x="9.00" y="13.90" font-size="9" fill="#1a1a1a" color="#1a1a1a"><tspan font-style="italic">t</tspan> = 0.24 s</text><line x1="67.6" y1="67.1" x2="92.6" y2="67.1" stroke="#4a4a4a" stroke-width="1.7"/></g></g>
<clipPath id="cp3"><rect x="349.0" y="150.1" width="102.0" height="74.1"/></clipPath><g clip-path="url(#cp3)"><g transform="translate(349.0,150.5)"><rect x="0.00" y="-0.40" width="102.0" height="74.1" fill="url(#bgr1)"/><polygon points="0.00,0.00 9.00,0.00 0.00,4.80" fill="#a88f60" stroke="none" stroke-width="0.9" /><polygon points="102.00,0.00 95.00,0.00 102.00,5.80" fill="#ac925e" stroke="none" stroke-width="0.9" /><polygon points="0.00,74.10 0.00,69.10 5.60,74.10" fill="#111" stroke="none" stroke-width="0.9" /><polygon points="30.50,23.60 65.30,50.50 37.00,75.00 0.00,42.70" fill="#ebecf0" stroke="#cdcfd6" stroke-width="0.45" /><polygon points="65.30,0.50 97.40,26.60 72.30,45.70 40.20,18.60" fill="#e5e6eb" stroke="#c8cad2" stroke-width="0.45" /><polygon points="0.00,32.90 16.30,35.50 21.00,36.40 0.00,45.90" fill="url(#pipG)" stroke="none" stroke-width="0.9" /><polygon points="0.00,24.40 0.00,32.90 16.30,35.60 16.30,34.60" fill="url(#pipB)" stroke="none" stroke-width="0.9" /><polygon points="16.30,34.70 21.00,36.40 16.30,36.80" fill="#e4e6ec" stroke="none" stroke-width="0.9" /><line x1="7" y1="37.4" x2="19" y2="37.0" stroke="#505050" stroke-width="0.8" opacity="0.55"/><ellipse cx="56.60" cy="59.90" rx="2.9" ry="2.2" fill="url(#dropB)" transform="rotate(30 56.60 59.90)" /><polygon points="49.00,0.00 55.50,0.00 57.50,8.40" fill="#9ea2b4" stroke="none" stroke-width="0.9" opacity="0.75"/><polygon points="55.40,0.00 58.40,0.00 59.40,8.40 56.80,9.40" fill="#4a68e4" stroke="none" stroke-width="0.9" opacity="0.9"/><circle cx="58.00" cy="9.40" r="1.9" fill="#2438b8"/><ellipse cx="64.90" cy="16.00" rx="4.0" ry="2.8" fill="url(#dropB)" transform="rotate(35 64.90 16.00)" /><text x="7.90" y="13.90" font-size="9" fill="#1a1a1a" color="#1a1a1a"><tspan font-style="italic">t</tspan> = 0.36 s</text><circle cx="65" cy="16.0" r="6.3" fill="none" stroke="#ec3438" stroke-width="0.9" stroke-dasharray="1.6,1"/><text x="38.90" y="34.80" font-size="9" fill="#1a1a1a" color="#1a1a1a" text-anchor="start" >Water pinning</text><line x1="71.6" y1="67.4" x2="97" y2="67.4" stroke="#4a4a4a" stroke-width="1.7"/></g></g>
<clipPath id="cp4"><rect x="15.1" y="229.9" width="98.8" height="74.0"/></clipPath><g clip-path="url(#cp4)"><g transform="translate(15.0,230.0)"><rect x="0.10" y="-0.10" width="98.8" height="74.0" fill="url(#bgr2)"/><polygon points="0.00,29.70 20.70,32.00 20.70,36.00 0.00,37.10" fill="#d2d2a8" stroke="none" stroke-width="0.9" /><polygon points="10.00,31.00 20.70,32.00 20.70,36.00 10.00,36.30" fill="#d8d890" stroke="none" stroke-width="0.9" /><polygon points="42.00,0.00 47.00,0.00 54.00,12.00" fill="#a8a8a4" stroke="none" stroke-width="0.9" opacity="0.8"/><polygon points="47.00,0.00 52.00,0.00 57.50,12.00 54.00,13.00" fill="#d4d4a8" stroke="none" stroke-width="0.9" /><ellipse cx="21.60" cy="39.90" rx="4.3" ry="3.3" fill="#b4ae4a" transform="rotate(45 21.60 39.90)" /><ellipse cx="21.30" cy="39.60" rx="3.5" ry="2.5" fill="#dcd872" transform="rotate(45 21.30 39.60)" /><ellipse cx="20.80" cy="39.30" rx="1.935" ry="1.32" fill="#f0eeb8" transform="rotate(45 20.80 39.30)" /><ellipse cx="58.00" cy="14.30" rx="5.0" ry="3.3" fill="#b4ae4a" transform="rotate(25 58.00 14.30)" /><ellipse cx="57.70" cy="14.00" rx="4.2" ry="2.5" fill="#dcd872" transform="rotate(25 57.70 14.00)" /><ellipse cx="57.20" cy="13.70" rx="2.25" ry="1.32" fill="#f0eeb8" transform="rotate(25 57.20 13.70)" /><polygon points="32.50,24.40 63.60,52.50 32.50,73.20 1.00,43.00" fill="none" stroke="#ec3438" stroke-width="1.1" stroke-dasharray="2.4,1.1,0.9,1.1"/><polygon points="67.00,1.00 99.60,30.50 73.20,46.20 41.70,16.70" fill="none" stroke="#ec3438" stroke-width="1.1" stroke-dasharray="2.4,1.1,0.9,1.1"/><text x="4.20" y="13.80" font-size="9" fill="#1a1a1a" color="#1a1a1a" text-anchor="start" >(ii)</text><text x="18.00" y="13.80" font-size="9" fill="#1a1a1a" color="#1a1a1a" text-anchor="start" >Olive oil</text><text x="47.80" y="29.00" font-size="9" fill="#1a1a1a" color="#1a1a1a" text-anchor="start" >Non-slippery</text><text x="18.70" y="55.10" font-size="9" fill="#1a1a1a" color="#1a1a1a" text-anchor="start" >Slippery</text><line x1="68" y1="67.1" x2="93" y2="67.1" stroke="#4a4a4a" stroke-width="1.7"/></g></g>
<clipPath id="cp5"><rect x="126.1" y="229.9" width="99.0" height="74.0"/></clipPath><g clip-path="url(#cp5)"><g transform="translate(126.0,230.0)"><rect x="0.10" y="-0.10" width="99.0" height="74.0" fill="url(#bgr2)"/><polygon points="29.00,25.00 63.10,52.10 39.00,73.40 2.00,40.10" fill="#e9e9ea" stroke="#cacacc" stroke-width="0.45" /><polygon points="68.10,1.00 98.20,27.00 74.20,46.10 43.10,17.00" fill="#e7e7e9" stroke="#cacacc" stroke-width="0.45" /><polygon points="20.50,40.00 22.00,40.00 49.10,63.10 38.00,67.10" fill="#e3e8ac" stroke="none" stroke-width="0.9" opacity="0.9"/><polygon points="55.50,13.50 58.00,12.50 71.50,22.00 69.00,26.50" fill="#e3e8ac" stroke="none" stroke-width="0.9" opacity="0.9"/><ellipse cx="69.80" cy="24.30" rx="2.8" ry="2.0" fill="#dfe68e" transform="rotate(30 69.80 24.30)" /><text x="9.20" y="13.80" font-size="9" fill="#1a1a1a" color="#1a1a1a"><tspan font-style="italic">t</tspan> =4.9 s</text><line x1="68" y1="67.1" x2="93" y2="67.1" stroke="#111" stroke-width="1.7"/></g></g>
<clipPath id="cp6"><rect x="237.0" y="229.9" width="100.6" height="74.0"/></clipPath><g clip-path="url(#cp6)"><g transform="translate(237.0,230.0)"><rect x="0.00" y="-0.10" width="100.6" height="74.0" fill="url(#bgr2)"/><polygon points="29.00,25.00 63.10,52.10 39.00,73.40 2.00,40.10" fill="#e9e9ea" stroke="#cacacc" stroke-width="0.45" /><polygon points="68.10,1.00 98.20,27.00 74.20,46.10 43.10,17.00" fill="#e7e7e9" stroke="#cacacc" stroke-width="0.45" /><line x1="25.5" y1="44" x2="41.5" y2="60.5" stroke="#e3e8ac" stroke-width="1.5"/><polygon points="33.00,69.50 56.00,55.00 57.50,58.00 35.00,72.50" fill="#dfe68e" stroke="none" stroke-width="0.9" /><polygon points="57.50,13.50 72.50,25.50 75.50,29.50 71.00,30.50" fill="#e3e8ac" stroke="none" stroke-width="0.9" opacity="0.85"/><ellipse cx="73.00" cy="28.80" rx="2.8" ry="1.7" fill="#dfe68e" transform="rotate(30 73.00 28.80)" /><text x="10.20" y="13.80" font-size="9" fill="#1a1a1a" color="#1a1a1a"><tspan font-style="italic">t</tspan> = 9.2 s</text><line x1="68" y1="67.1" x2="93" y2="67.1" stroke="#111" stroke-width="1.7"/></g></g>
<clipPath id="cp7"><rect x="349.0" y="229.9" width="102.0" height="74.0"/></clipPath><g clip-path="url(#cp7)"><g transform="translate(349.0,230.0)"><rect x="0.00" y="-0.10" width="102.0" height="74.0" fill="url(#bgr2)"/><polygon points="29.00,25.00 63.10,52.10 39.00,73.40 2.00,40.10" fill="#e9e9ea" stroke="#cacacc" stroke-width="0.45" /><polygon points="68.10,1.00 98.20,27.00 74.20,46.10 43.10,17.00" fill="#e7e7e9" stroke="#cacacc" stroke-width="0.45" /><polygon points="64.40,23.10 70.70,19.20 88.20,34.40 80.60,40.00" fill="#e2e8a6" stroke="none" stroke-width="0.9" opacity="0.9"/><polygon points="57.00,15.30 62.70,12.20 89.50,35.60 81.80,41.30" fill="none" stroke="#ec3438" stroke-width="1.1" stroke-dasharray="2.4,1.1,0.9,1.1"/><polygon points="31.50,70.50 60.50,51.50 63.50,55.00 35.50,74.00" fill="#dfe68e" stroke="none" stroke-width="0.9" /><text x="8.60" y="13.40" font-size="9" fill="#1a1a1a" color="#1a1a1a"><tspan font-style="italic">t</tspan> = 26.3 s</text><text x="66.10" y="53.10" font-size="9" fill="#1a1a1a" color="#1a1a1a" text-anchor="start" >Oil stain</text><text x="19.40" y="60.30" font-size="8.4" fill="#1a1a1a" color="#1a1a1a" text-anchor="start" >Stain-free</text><line x1="71.3" y1="67.3" x2="96.6" y2="67.3" stroke="#111" stroke-width="1.7"/></g></g>
<clipPath id="cp8"><rect x="15.1" y="309.6" width="98.8" height="64.1"/></clipPath><g clip-path="url(#cp8)"><g transform="translate(15.0,309.7)"><rect x="0.10" y="-0.10" width="98.8" height="64.1" fill="url(#bgr3)"/><polygon points="28.10,21.30 62.30,51.80 41.90,63.80 7.70,32.40" fill="#dfdbdd" stroke="none" stroke-width="0.9" opacity="0.7"/><polygon points="51.20,13.00 91.80,35.20 70.60,48.10 38.20,18.60" fill="#dfdbdd" stroke="none" stroke-width="0.9" opacity="0.7"/><polygon points="49.20,0.00 55.20,0.00 54.70,7.80 51.20,7.80" fill="#d0a8b8" stroke="none" stroke-width="0.9" opacity="0.45"/><line x1="57.2" y1="0" x2="57.2" y2="10.8" stroke="#ee2232" stroke-width="1.8"/><polygon points="0.00,17.70 0.00,33.70 25.30,26.80 25.80,26.00" fill="url(#pipR)" stroke="none" stroke-width="0.9" /><line x1="15.8" y1="22.599999999999998" x2="24.8" y2="26.0" stroke="#ee2232" stroke-width="1.6"/><line x1="15.3" y1="28.4" x2="25.3" y2="26.8" stroke="#8a8488" stroke-width="0.7" opacity="0.7"/><ellipse cx="52.60" cy="16.30" rx="3.0" ry="2.4" fill="#ee2232" transform="rotate(40 52.60 16.30)" /><ellipse cx="29.90" cy="37.00" rx="2.3" ry="2.0" fill="#ee2232" transform="rotate(40 29.90 37.00)" /><polygon points="28.10,21.30 62.30,51.80 41.90,63.80 7.70,32.40" fill="none" stroke="#ec3438" stroke-width="1.1" stroke-dasharray="2.4,1.1,0.9,1.1"/><polygon points="51.20,13.00 91.80,35.20 70.60,48.10 38.20,18.60" fill="none" stroke="#ec3438" stroke-width="1.1" stroke-dasharray="2.4,1.1,0.9,1.1"/><text x="5.00" y="12.40" font-size="9" fill="#1a1a1a" color="#1a1a1a" text-anchor="start" >(iii)</text><text x="20.70" y="12.40" font-size="9" fill="#1a1a1a" color="#1a1a1a" text-anchor="start" >Human serum</text><text x="42.90" y="31.90" font-size="9" fill="#1a1a1a" color="#1a1a1a" text-anchor="start" >Non-slippery</text><text x="22.50" y="49.50" font-size="9" fill="#1a1a1a" color="#1a1a1a" text-anchor="start" >Slippery</text><line x1="67" y1="56.5" x2="91.8" y2="56.5" stroke="#111" stroke-width="1.7"/></g></g>
<clipPath id="cp9"><rect x="126.1" y="309.6" width="99.0" height="64.1"/></clipPath><g clip-path="url(#cp9)"><g transform="translate(126.0,309.7)"><rect x="0.10" y="-0.10" width="99.0" height="64.1" fill="url(#bgr3)"/><polygon points="54.50,9.30 93.30,33.30 72.00,47.30 38.70,15.80" fill="#e2dfe1" stroke="#ccc8ca" stroke-width="0.4" /><polygon points="26.70,21.30 63.70,52.70 45.00,66.00 13.80,34.30" fill="#dfdcdd" stroke="none" stroke-width="0.9" opacity="0.8"/><polygon points="50.10,0.00 56.10,0.00 55.60,7.50 52.10,7.50" fill="#d0a8b8" stroke="none" stroke-width="0.9" opacity="0.45"/><line x1="58.1" y1="0" x2="58.1" y2="10.5" stroke="#ee2232" stroke-width="1.8"/><polygon points="0.00,17.50 0.00,33.50 25.90,26.60 26.40,25.80" fill="url(#pipR)" stroke="none" stroke-width="0.9" /><line x1="16.4" y1="22.4" x2="25.4" y2="25.8" stroke="#ee2232" stroke-width="1.6"/><line x1="15.899999999999999" y1="28.2" x2="25.9" y2="26.6" stroke="#8a8488" stroke-width="0.7" opacity="0.7"/><ellipse cx="53.00" cy="16.30" rx="2.9" ry="2.4" fill="#ee2232" transform="rotate(40 53.00 16.30)" /><ellipse cx="37.20" cy="46.80" rx="3.4" ry="1.9" fill="#ee2232" transform="rotate(45 37.20 46.80)" /><text x="9.70" y="12.50" font-size="9" fill="#1a1a1a" color="#1a1a1a"><tspan font-style="italic">t</tspan> =0.3 s</text><line x1="67" y1="56.5" x2="92" y2="56.5" stroke="#111" stroke-width="1.7"/></g></g>
<clipPath id="cp10"><rect x="237.0" y="309.6" width="100.6" height="64.1"/></clipPath><g clip-path="url(#cp10)"><g transform="translate(237.0,309.7)"><rect x="0.00" y="-0.10" width="100.6" height="64.1" fill="url(#bgr3)"/><polygon points="60.00,8.40 95.00,37.00 73.00,48.00 41.50,19.50" fill="#e3e0e2" stroke="#c8c4c6" stroke-width="0.4" /><polygon points="32.30,24.10 64.60,52.80 43.00,66.00 11.00,33.30" fill="#e2e1dc" stroke="none" stroke-width="0.9" opacity="0.8"/><path d="M62,14 Q66,20 68.9,27.3" stroke="#e070c8" stroke-width="3" fill="none" opacity="0.55"/><ellipse cx="50.80" cy="21.70" rx="2.9" ry="2.3" fill="#ee2232" transform="rotate(40 50.80 21.70)" /><ellipse cx="55.40" cy="19.10" rx="2.8" ry="2.3" fill="#ee2232" transform="rotate(40 55.40 19.10)" /><ellipse cx="68.90" cy="27.30" rx="2.9" ry="2.2" fill="#ee2232" transform="rotate(30 68.90 27.30)" /><ellipse cx="50.00" cy="63.50" rx="1.5" ry="1.2" fill="#e04090" transform="rotate(0 50.00 63.50)" /><text x="10.50" y="12.50" font-size="9" fill="#1a1a1a" color="#1a1a1a"><tspan font-style="italic">t</tspan> = 14.5 s</text><line x1="67.5" y1="56.5" x2="92.5" y2="56.5" stroke="#111" stroke-width="1.7"/></g></g>
<clipPath id="cp11"><rect x="349.0" y="309.6" width="102.0" height="64.1"/></clipPath><g clip-path="url(#cp11)"><g transform="translate(349.0,309.7)"><rect x="0.00" y="-0.10" width="102.0" height="64.1" fill="url(#bgr3)"/><polygon points="59.00,9.00 97.00,38.00 75.00,50.00 42.00,20.00" fill="#e3e0e2" stroke="#c8c4c6" stroke-width="0.4" /><polygon points="32.00,25.00 65.00,53.00 44.00,66.00 11.00,34.00" fill="#e2e1dc" stroke="none" stroke-width="0.9" opacity="0.8"/><path d="M50,17 L54.3,25.9" stroke="#e070c8" stroke-width="3" fill="none" opacity="0.55"/><path d="M54,13 L57.4,21.3" stroke="#e070c8" stroke-width="3" fill="none" opacity="0.55"/><path d="M63,14 Q70,25 80.1,41.2" stroke="#e070c8" stroke-width="3.2" fill="none" opacity="0.55"/><ellipse cx="54.30" cy="25.90" rx="2.9" ry="2.3" fill="#ee2232" transform="rotate(30 54.30 25.90)" /><ellipse cx="57.40" cy="21.30" rx="2.6" ry="2.2" fill="#ee2232" transform="rotate(30 57.40 21.30)" /><ellipse cx="80.10" cy="41.20" rx="2.9" ry="2.2" fill="#ee2232" transform="rotate(30 80.10 41.20)" /><ellipse cx="50.00" cy="63.50" rx="1.5" ry="1.2" fill="#e04090" transform="rotate(0 50.00 63.50)" /><text x="8.20" y="12.50" font-size="9" fill="#1a1a1a" color="#1a1a1a"><tspan font-style="italic">t</tspan> = 31.7 s</text><text x="54.80" y="50.30" font-size="9" fill="#1a1a1a" color="#1a1a1a" text-anchor="start" >Serum stain</text><text x="12.80" y="59.50" font-size="8.4" fill="#1a1a1a" color="#1a1a1a" text-anchor="start" >Stain-free</text><line x1="71.5" y1="57.4" x2="96.7" y2="57.4" stroke="#111" stroke-width="1.7"/></g></g>
<text x="0.2" y="155.6" font-size="12.5" font-weight="bold" fill="#000" color="#000">c</text>
<filter id="blr" x="-5%" y="-5%" width="110%" height="110%"><feGaussianBlur stdDeviation="0.7"/></filter>
<clipPath id="cpe"><rect x="481.0" y="148.0" width="198.6" height="91.6"/></clipPath><g clip-path="url(#cpe)">
<g filter="url(#blr)">
<rect x="478" y="145" width="205" height="98" fill="#4a6a62" />
<rect x="478" y="145" width="100" height="98" fill="#8f9492" />
<rect x="478" y="160" width="28" height="70" fill="#a2a7a5" />
<rect x="500" y="155" width="5" height="12" fill="#2f5048" />
<rect x="500" y="178" width="5" height="20" fill="#3e5c55" />
<rect x="513" y="148" width="64" height="15" fill="#283f35" />
<rect x="577" y="145" width="106" height="17" fill="#24443a" />
<rect x="513" y="145" width="64" height="3.5" fill="#9a9e9c" />
<rect x="505" y="163" width="72" height="9.5" fill="#6f8580" />
<rect x="522" y="168.5" width="25" height="2.5" fill="#d8eee2" />
<rect x="505" y="172.5" width="72" height="10.5" fill="#a0a5a3" />
<rect x="505" y="183" width="72" height="15" fill="#3c4a46" />
<rect x="540" y="183" width="4" height="25" fill="#c4cac8" />
<rect x="505" y="198" width="72" height="10" fill="#a6aaa8" />
<rect x="505" y="208" width="72" height="14" fill="#6a827c" />
<rect x="505" y="222" width="72" height="7" fill="#a2aaa8" />
<rect x="577" y="162" width="106" height="10" fill="#588a80" />
<rect x="577" y="172" width="106" height="4" fill="#36605a" />
<rect x="577" y="176" width="106" height="2" fill="#8aa49c" />
<rect x="577" y="178" width="106" height="14" fill="#427068" />
<rect x="577" y="192" width="106" height="6" fill="#38645c" />
<rect x="577" y="201" width="106" height="2" fill="#86a29a" />
<rect x="577" y="203" width="106" height="19" fill="#447268" />
<rect x="577" y="222" width="106" height="7" fill="#98aca6" />
<rect x="478" y="228" width="205" height="6" fill="#8e9694" />
<rect x="585" y="229" width="10" height="4.5" fill="#2a4a3a" />
<rect x="600" y="229" width="13" height="4.5" fill="#2a4a3a" />
<rect x="620" y="229" width="11" height="4.5" fill="#2a4a3a" />
<rect x="640" y="229" width="12" height="4.5" fill="#2a4a3a" />
<rect x="478" y="233.5" width="205" height="2" fill="#cfcfcf" />
<rect x="493" y="235.5" width="190" height="6" fill="#6c3a30" />
<path d="M623,148 L627,148 L628,156 L631,162 L630,170 L634,176 L633,184 L637,192 L636,200 L640,208 L639,216 L642,224 L640,230 L614,231 L613,222 L616,214 L614,206 L618,198 L617,188 L620,180 L619,170 L622,162 L621,154 Z" fill="#85694a" opacity="0.88"/>
<polygon points="505,186 511,186 515,205 519,228 504,228" fill="#7a6646"/>
<rect x="478" y="176" width="11" height="22" fill="#e2e2ee"/>
<ellipse cx="490" cy="165" rx="10" ry="12" fill="#d8d0bc"/>
<ellipse cx="486" cy="232" rx="9" ry="9" fill="#dcd6c6"/>
<polygon points="661,180 683,180 683,214 672,214 664,200" fill="#dadaec"/>
<rect x="664" y="171" width="19" height="11" fill="#2e2e2e"/>
<ellipse cx="668" cy="161.5" rx="12" ry="10.5" fill="#d8ccb4"/>
<ellipse cx="672" cy="228" rx="11" ry="9" fill="#e0dccc"/>
<path d="M671,240 Q673,229 683,226 L683,240 Z" fill="#303030"/>
</g>
<line x1="487" y1="234.4" x2="509" y2="234.4" stroke="#fff" stroke-width="1.6"/>
<line x1="644" y1="235.6" x2="668" y2="235.6" stroke="#111" stroke-width="1.6"/>
<path d="M490.8,163.5 L670.6,162.5 L670.6,229 L490.8,228.6 Z" fill="none" stroke="#f0302c" stroke-width="1.1" stroke-dasharray="2.2,1.3"/>
<text x="581" y="157.4" font-size="9.2" fill="#fff" color="#fff" style="stroke-width:0" text-anchor="middle">Large-scale O-S</text>
</g>
<text x="468.8" y="156.0" font-size="12.5" font-weight="bold" fill="#000" color="#000">e</text>
</svg></body></html>
